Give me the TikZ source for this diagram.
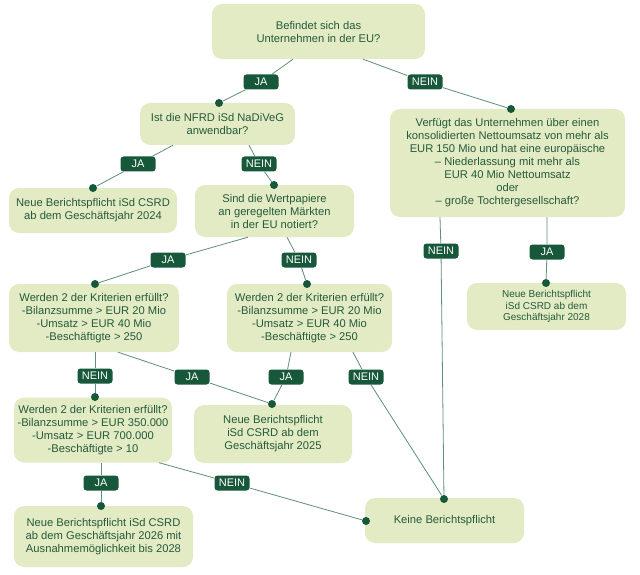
\documentclass[tikz,border=0pt]{standalone}
\usepackage{fontspec}
\setmainfont{Liberation Sans}
\usepackage{xcolor}
\definecolor{boxgreen}{HTML}{E3EBC5}
\definecolor{textgreen}{HTML}{245A3A}
\definecolor{taggreen}{HTML}{17573A}
\definecolor{linegreen}{HTML}{5F8F76}

\begin{document}
\begin{tikzpicture}[x=1pt,y=-1pt]
\tikzset{every node/.style={font=\fontsize{11.2}{13}\selectfont}}
\tikzset{box/.style={fill=boxgreen,text=textgreen,rounded corners=10pt,align=center,inner sep=0pt}}
\tikzset{tag/.style={fill=taggreen,text=white,rounded corners=3pt,minimum width=35pt,minimum height=15pt,inner sep=0pt,font=\fontsize{11}{12}\selectfont}}
\tikzset{dot/.style={circle,fill=taggreen,inner sep=0pt,minimum size=8pt}}
\tikzset{link/.style={draw=linegreen,line width=0.8pt}}

\useasboundingbox (0,0) rectangle (640,575);

\node[box,minimum width=213pt,minimum height=55pt] (q1) at (318.5,31.5) {Befindet sich das\\Unternehmen in der EU?};
\node[box,minimum width=155pt,minimum height=42pt] (nfrd) at (217.5,124) {Ist die NFRD iSd NaDiVeG\\anwendbar?};
\node[box,minimum width=235pt,minimum height=108pt] (q3) at (507.5,163) {Verfügt das Unternehmen über einen\\konsolidierten Nettoumsatz von mehr als\\EUR 150 Mio und hat eine europäische\\– Niederlassung mit mehr als\\EUR 40 Mio Nettoumsatz\\oder\\– große Tochtergesellschaft?};
\node[box,minimum width=168pt,minimum height=45pt] (csrd24) at (93,210.5) {Neue Berichtspflicht iSd CSRD\\ab dem Geschäftsjahr 2024};
\node[box,minimum width=159pt,minimum height=52pt] (wp) at (274.5,211) {Sind die Wertpapiere\\an geregelten Märkten\\in der EU notiert?};
\node[box,minimum width=170pt,minimum height=68pt] (krit1) at (94,318) {Werden 2 der Kriterien erfüllt?\\-Bilanzsumme > EUR 20 Mio\\-Umsatz > EUR 40 Mio\\-Beschäftigte > 250};
\node[box,minimum width=165pt,minimum height=68pt] (krit2) at (309.5,318) {Werden 2 der Kriterien erfüllt?\\-Bilanzsumme > EUR 20 Mio\\-Umsatz > EUR 40 Mio\\-Beschäftigte > 250};
\node[box,minimum width=159pt,minimum height=47pt,font=\fontsize{10}{11.5}\selectfont] (csrd28) at (546.5,306.5) {Neue Berichtspflicht\\iSd CSRD ab dem\\Geschäftsjahr 2028};
\node[box,minimum width=158pt,minimum height=65pt] (krit3) at (93,430) {Werden 2 der Kriterien erfüllt?\\-Bilanzsumme > EUR 350.000\\-Umsatz > EUR 700.000\\-Beschäftigte > 10};
\node[box,minimum width=158pt,minimum height=58pt] (csrd25) at (273,434) {Neue Berichtspflicht\\iSd CSRD ab dem\\Geschäftsjahr 2025};
\node[box,minimum width=179pt,minimum height=61pt] (csrd26) at (103.5,536.5) {Neue Berichtspflicht iSd CSRD\\ab dem Geschäftsjahr 2026 mit\\Ausnahmemöglichkeit bis 2028};
\node[box,minimum width=159pt,minimum height=45pt] (keine) at (444.5,520.5) {Keine Berichtspflicht};

\node[tag] (t1) at (261,82) {JA};
\node[tag] (t2) at (425,82) {NEIN};
\node[tag] (t3) at (138,164) {JA};
\node[tag] (t4) at (259,164) {NEIN};
\node[tag] (t5) at (168,260) {JA};
\node[tag] (t6) at (299,260) {NEIN};
\node[tag] (t7) at (441,251) {NEIN};
\node[tag] (t8) at (547,252) {JA};
\node[tag] (t9) at (95,376) {NEIN};
\node[tag] (t10) at (192,377) {JA};
\node[tag] (t11) at (286,377) {JA};
\node[tag] (t12) at (366,377) {NEIN};
\node[tag] (t13) at (101,483) {JA};
\node[tag] (t14) at (232,483) {NEIN};

\node[dot] (dnfrd) at (219,103) {};
\node[dot] (dq3) at (511,109) {};
\node[dot] (dcsrd24) at (93,188) {};
\node[dot] (dwp) at (274,185) {};
\node[dot] (dkrit1) at (95,284) {};
\node[dot] (dkrit2) at (307,284) {};
\node[dot] (dcsrd28) at (546,283) {};
\node[dot] (dkrit3) at (95,397) {};
\node[dot] (dcsrd25) at (272,404) {};
\node[dot] (dcsrd26) at (101,506) {};
\node[dot] (dkeine1) at (444,499) {};
\node[dot] (dkeine2) at (366,521) {};

\draw[link] ([xshift=-25.5pt]q1.south) -- (t1) -- (dnfrd);
\draw[link] ([xshift=44.5pt]q1.south) -- (t2) -- (dq3);
\draw[link] ([xshift=-44.5pt]nfrd.south) -- (t3) -- (dcsrd24);
\draw[link] ([xshift=31.5pt]nfrd.south) -- (t4) -- (dwp);
\draw[link] ([xshift=-26.5pt]wp.south) -- (t5) -- (dkrit1);
\draw[link] ([xshift=12.5pt]wp.south) -- (t6) -- (dkrit2);
\draw[link] ([xshift=-67.5pt]q3.south) -- (t7) -- (dkeine1);
\draw[link] ([xshift=39.5pt]q3.south) -- (t8) -- (dcsrd28);
\draw[link] ([xshift=1pt]krit1.south) -- (t9) -- (dkrit3);
\draw[link] ([xshift=24pt]krit1.south) -- (t10) -- (dcsrd25);
\draw[link] ([xshift=-18.5pt]krit2.south) -- (t11) -- (dcsrd25);
\draw[link] ([xshift=43.5pt]krit2.south) -- (t12) -- (dkeine1);
\draw[link] ([xshift=8pt]krit3.south) -- (t13) -- (dcsrd26);
\draw[link] ([xshift=66pt]krit3.south) -- (t14) -- (dkeine2);

\end{tikzpicture}
\end{document}
